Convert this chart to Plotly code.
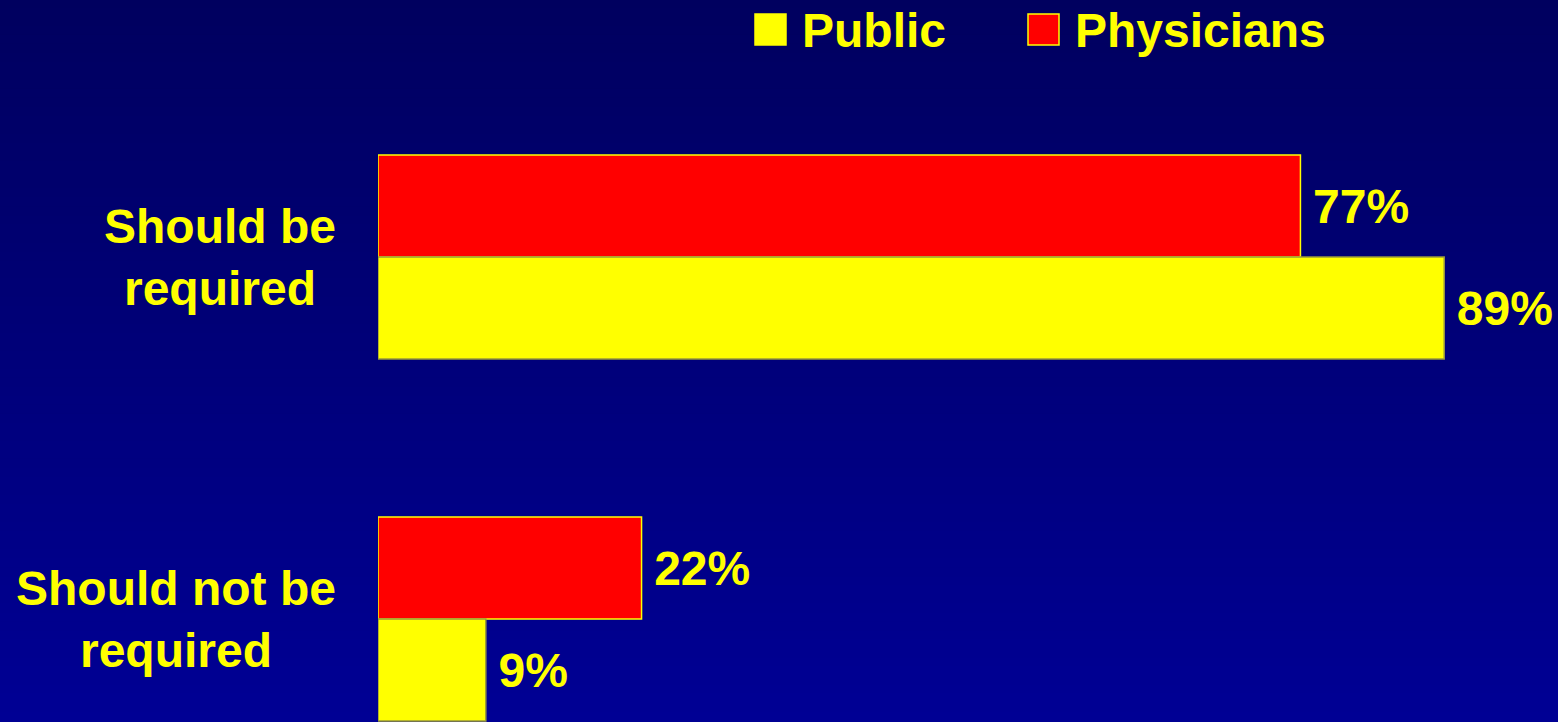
import plotly.graph_objects as go

categories = ["Should be<br>required", "Should not be<br>required"]
series_names = ["Physicians", "Public"]
physicians = [77, 22]
public = [89, 9]
series_colors = {"Physicians": "#FF0000", "Public": "#FFFF00"}
series_lines = {"Physicians": "#FFFF00", "Public": "#9A9A3A"}

W, H = 1558, 722
ML = 378
PW = W - ML
FONT = "Liberation Sans, Arial, sans-serif"
YEL = "#FFFF00"

fig = go.Figure()
for name, vals in zip(series_names, [physicians, public]):
    fig.add_trace(go.Bar(
        y=categories, x=vals, orientation="h", name=name,
        marker=dict(color=series_colors[name], line=dict(color=series_lines[name], width=1.5)),
        text=[f"\u2009{v}%" for v in vals], textposition="outside",
        textfont=dict(family=FONT, size=48, color=YEL, weight="bold"),
        cliponaxis=False, constraintext="none", showlegend=False,
        hoverinfo="skip",
    ))

shapes = []
# background gradient
N = 80
top = (0, 0, 95)
bot = (0, 0, 148)
for i in range(N):
    t = i / (N - 1)
    c = tuple(int(round(top[k] + (bot[k] - top[k]) * t)) for k in range(3))
    shapes.append(dict(type="rect", xref="paper", yref="paper", layer="below",
                       x0=-ML / PW - 0.01, x1=1.01,
                       y0=1 - (i + 1) / N - 0.002, y1=1 - i / N + 0.002,
                       fillcolor=f"rgb{c}", line=dict(width=0)))

def px2x(px):
    return (px - ML) / PW

def py2y(py):
    return 1 - py / H

annotations = []
# legend (custom, large squares)
legend_items = [("Public", 755, 800), ("Physicians", 1028, 1073)]
for name, sx, tx in legend_items:
    shapes.append(dict(type="rect", xref="paper", yref="paper", layer="above",
                       x0=px2x(sx), x1=px2x(sx + 31), y0=py2y(45), y1=py2y(14),
                       fillcolor=series_colors[name],
                       line=dict(color=YEL, width=1.5)))
    annotations.append(dict(text=name, xref="paper", yref="paper", x=px2x(tx), y=py2y(30),
                            xanchor="left", yanchor="middle", showarrow=False,
                            font=dict(family=FONT, size=48, color=YEL, weight="bold")))

# category labels (centered multi-line)
for cat in categories:
    annotations.append(dict(text=cat, xref="paper", yref="y", x=0, y=cat, xshift=-40,
                            xanchor="right", yanchor="middle", align="center",
                            showarrow=False,
                            font=dict(family=FONT, size=48, color=YEL, weight="bold")))

fig.update_layout(
    width=W, height=H,
    margin=dict(l=ML, r=0, t=0, b=0),
    paper_bgcolor="#000078", plot_bgcolor="rgba(0,0,0,0)",
    barmode="group", bargap=0.4365, bargroupgap=0,
    xaxis=dict(range=[0, 98.5], visible=False, fixedrange=True),
    yaxis=dict(range=[1.2845, -0.710], showticklabels=False, showgrid=False,
               zeroline=False, showline=False, ticks="", fixedrange=True),
    shapes=shapes, annotations=annotations, showlegend=False,
    hovermode=False,
)

fig.write_html("out.html", config={"displayModeBar": False, "staticPlot": True},
               post_script="document.body.style.margin='0';document.body.style.overflow='hidden';")
